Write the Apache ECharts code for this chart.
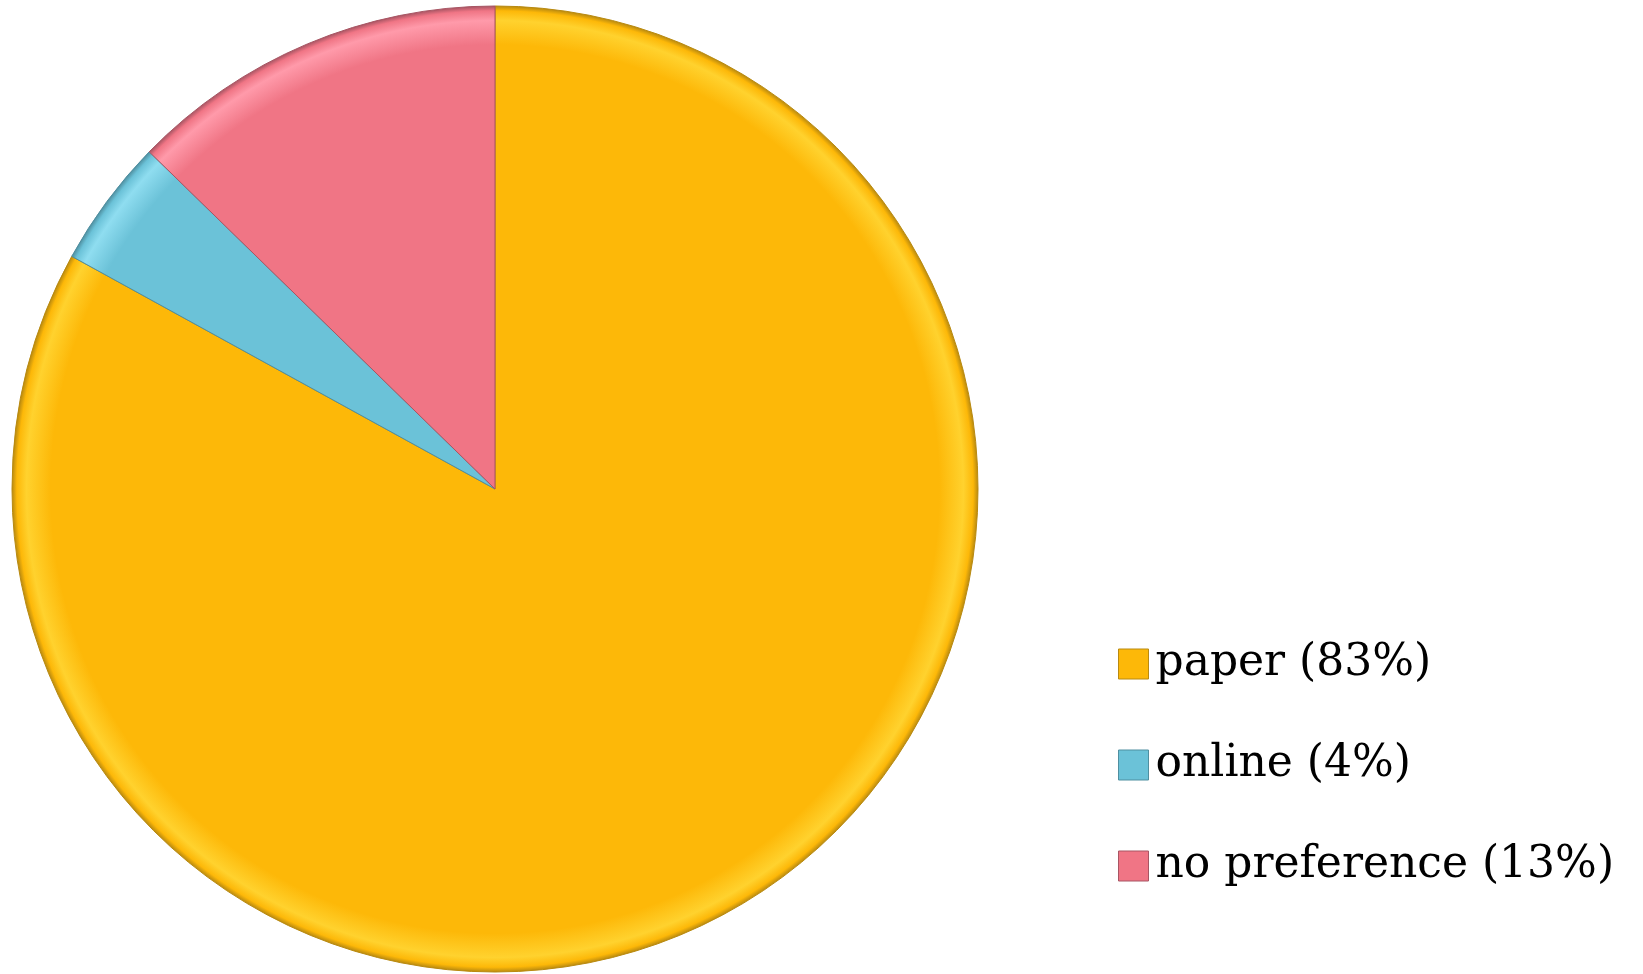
<!DOCTYPE html>
<html>
<head>
<meta charset="utf-8">
<script src="https://cdn.jsdelivr.net/npm/echarts@6/dist/echarts.min.js"></script>
<style>
html,body{margin:0;padding:0;background:#fff;}
#chart{width:1643px;height:974px;}
</style>
</head>
<body>
<div id="chart"></div>
<script>
// Data
const categories = ['paper (83%)', 'online (4%)', 'no preference (13%)'];
const values = [83.0, 4.3, 12.7];
const colors = ['#FDB808', '#6BC2D8', '#F07585'];
const lightColors = ['#FFD22E', '#8FDDF0', '#FF9AAA'];
const edgeColors = ['#B98A10', '#4F8FA0', '#A85563'];

const CX = 495, CY = 489, R = 483;

function grad(i) {
  return {
    type: 'radial', x: CX, y: CY, r: R, global: true,
    colorStops: [
      { offset: 0, color: colors[i] },
      { offset: 0.92, color: colors[i] },
      { offset: 0.97, color: lightColors[i] },
      { offset: 0.99, color: colors[i] },
      { offset: 1, color: edgeColors[i] }
    ]
  };
}

const chart = echarts.init(document.getElementById('chart'), null, { renderer: 'canvas' });
chart.setOption({
  backgroundColor: '#ffffff',
  animation: false,
  legend: {
    orient: 'vertical',
    left: 1113,
    top: 637,
    itemWidth: 30,
    itemHeight: 30,
    itemGap: 57,
    icon: 'rect',
    textStyle: {
      fontFamily: 'DejaVu Serif',
      fontSize: 44,
      lineHeight: 41,
      color: '#000000',
      padding: [0, 0, 0, 2]
    },
    data: categories.map((c, i) => ({
      name: c,
      itemStyle: { color: colors[i], borderColor: edgeColors[i], borderWidth: 1 }
    }))
  },
  series: [{
    type: 'pie',
    center: [CX, CY],
    radius: [0, R],
    startAngle: 90,
    clockwise: true,
    label: { show: false },
    labelLine: { show: false },
    emphasis: { disabled: true },
    data: categories.map((c, i) => ({
      name: c,
      value: values[i],
      itemStyle: { color: grad(i), borderColor: edgeColors[i], borderWidth: 1 }
    }))
  }]
});
</script>
</body>
</html>
